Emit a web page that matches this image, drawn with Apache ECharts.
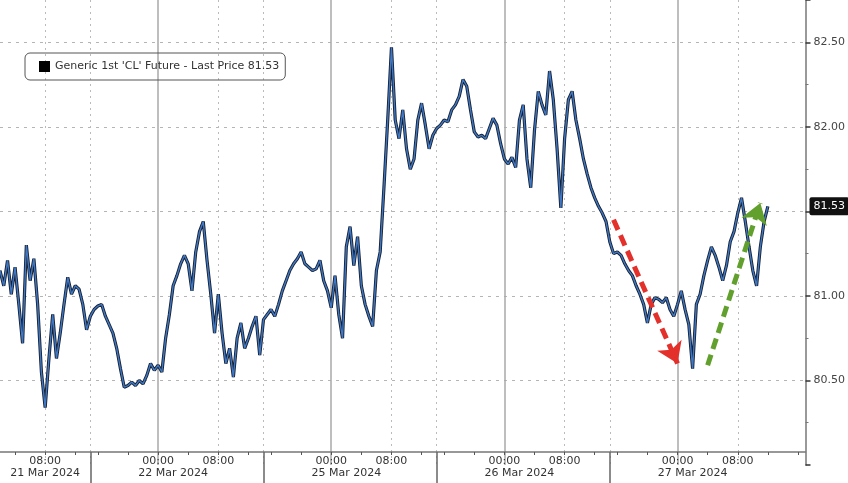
<!DOCTYPE html>
<html><head><meta charset="utf-8">
<script src="https://cdn.jsdelivr.net/npm/echarts@6/dist/echarts.min.js"></script>
<style>html,body{margin:0;padding:0;background:#fff}#c{width:848px;height:483px}</style>
</head><body><div id="c"></div>
<script>
// ---- data ----
const seriesName = "Generic 1st 'CL' Future - Last Price";
const sessionNames = ['21 Mar 2024', '22 Mar 2024', '25 Mar 2024', '26 Mar 2024', '27 Mar 2024'];
const sessionStartHour = [2, 15, 15, 15, 15];
const sessionSlotCount = [24, 46, 46, 46, 53];
// 30-minute closes
const price = [
  81.15,81.06,81.21,81.01,81.17,80.95,80.72,81.30,81.09,81.22,80.95,80.55,80.34,80.63,80.89,80.63,80.78,80.95,81.11,81.01,81.06,81.04,80.95,80.80,
  80.88,80.92,80.94,80.95,80.88,80.83,80.78,80.69,80.57,80.46,80.47,80.49,80.47,80.50,80.48,80.53,80.60,80.56,80.59,80.55,
  80.75,80.89,81.06,81.12,81.19,81.24,81.19,81.03,81.26,81.38,81.44,81.21,81.01,80.78,81.01,80.78,80.60,80.69,80.52,80.75,
  80.84,80.69,80.75,80.82,80.88,80.65,
  80.86,80.89,80.92,80.88,80.95,81.03,81.09,81.15,81.19,81.22,81.26,81.19,81.17,81.15,81.16,81.21,81.09,81.03,80.93,81.12,
  80.89,80.75,81.29,81.41,81.18,81.35,81.06,80.95,80.88,80.82,81.15,81.26,81.64,82.04,82.47,82.04,81.93,82.10,81.87,81.75,
  81.81,82.04,82.14,82.01,81.87,81.95,
  81.99,82.01,82.04,82.03,82.10,82.13,82.18,82.28,82.24,82.10,81.97,81.94,81.95,81.93,81.99,82.05,82.01,81.90,81.81,81.78,
  81.82,81.76,82.04,82.13,81.81,81.64,81.98,82.21,82.13,82.07,82.33,82.16,81.87,81.52,81.93,82.16,82.21,82.04,81.93,81.81,
  81.72,81.64,81.58,81.53,81.49,81.44,
  81.32,81.25,81.26,81.24,81.19,81.15,81.12,81.06,81.01,80.95,80.84,80.95,80.99,80.98,80.96,80.99,80.92,80.88,80.95,81.03,
  80.92,80.83,80.57,80.95,81.01,81.12,81.21,81.29,81.24,81.17,81.09,81.18,81.32,81.38,81.49,81.58,81.44,81.29,81.15,81.06,
  81.29,81.44,81.53
];
const yTickLabels = [80.5, 81.0, 81.5, 82.0, 82.5];
const redArrow = [[163, 81.45], [180, 80.60]];
const greenArrow = [[188, 80.59], [202, 81.55]];

// ---- build time slots ----
const categories = [], slotHour = [], slotSession = [], sessionStart = [];
const seen = new Set();
const hhmm = h => String(Math.floor(h)).padStart(2, '0') + ':' + (h % 1 ? '30' : '00');
sessionNames.forEach((name, s) => {
  sessionStart.push(categories.length);
  for (let k = 0; k < sessionSlotCount[s]; k++) {
    const h = (sessionStartHour[s] + k * 0.5) % 24;
    let c = name + ' ' + hhmm(h);
    while (seen.has(c)) c += '+';
    seen.add(c);
    categories.push(c); slotHour.push(h); slotSession.push(s);
  }
});
const dateLabelIdx = sessionNames.map((n, s) => {
  const target = s === 0 ? 8 : 2;
  return slotHour.findIndex((h, i) => slotSession[i] === s && h === target);
});
const last = price[price.length - 1];
const font = 'DejaVu Sans';

const chart = echarts.init(document.getElementById('c'), null, {renderer: 'canvas'});
const hiddenAxis = extra => Object.assign({
  type: 'category', data: categories, boundaryGap: false, position: 'bottom', offset: -13,
  axisLine: {show: false}, axisTick: {show: false}, axisLabel: {show: false}
}, extra);
const arrow = (pts, color) => [
  {coord: pts[0], symbol: 'none', lineStyle: {color: color, width: 5, type: [11, 6], opacity: 1}, itemStyle: {color: color}},
  {coord: pts[1], symbol: 'arrow', symbolSize: 20, itemStyle: {color: color}}
];

chart.setOption({
  animation: false,
  backgroundColor: '#fff',
  grid: {left: 0, right: 42, top: -12.5, bottom: 18},
  legend: {
    left: 25, top: 53, padding: [8, 6, 8, 14],
    borderColor: '#555', borderWidth: 1, borderRadius: 5,
    itemWidth: 11, itemHeight: 11, icon: 'rect',
    textStyle: {fontFamily: font, fontSize: 11, color: '#333'},
    data: [{name: seriesName, itemStyle: {color: '#000'}}],
    formatter: n => n + ' ' + last.toFixed(2)
  },
  xAxis: [
    {
      type: 'category', data: categories, boundaryGap: false, position: 'bottom', offset: -13,
      axisLine: {lineStyle: {color: '#777', width: 1.5}},
      axisTick: {length: 3, lineStyle: {color: '#555'}, interval: i => slotHour[i] % 4 === 0},
      axisLabel: {
        interval: i => (slotHour[i] === 0 || slotHour[i] === 8),
        formatter: (v, i) => hhmm(slotHour[i]),
        margin: 4, fontFamily: font, fontSize: 11, color: '#333'
      },
      splitLine: {show: false}
    },
    {
      type: 'category', data: categories, boundaryGap: false, position: 'bottom', offset: -13,
      axisLine: {show: false},
      axisTick: {show: true, length: 31, lineStyle: {color: '#666', width: 1.5},
        interval: i => sessionStart.indexOf(i) > 0},
      axisLabel: {
        interval: i => dateLabelIdx.indexOf(i) >= 0,
        formatter: (v, i) => { const s = dateLabelIdx.indexOf(i); return s >= 0 ? sessionNames[s] : ''; },
        margin: 16, fontFamily: font, fontSize: 11, color: '#333'
      }
    },
    hiddenAxis({splitLine: {show: true, interval: i => slotHour[i] === 0,
      lineStyle: {color: '#a8a8a8', width: 1.5, type: 'solid'}}}),
    hiddenAxis({splitLine: {show: true, interval: i => slotHour[i] === 8 || sessionStart.indexOf(i) > 0,
      lineStyle: {color: '#bbb', width: 1, type: [2, 4]}}})
  ],
  yAxis: {
    type: 'value', position: 'right', min: 80, max: 82.75, interval: 0.5,
    axisLine: {show: true, lineStyle: {color: '#777', width: 1.5}},
    axisTick: {show: true, length: 5, lineStyle: {color: '#333', width: 1.5}},
    minorTick: {show: true, splitNumber: 2, length: 3, lineStyle: {color: '#777'}},
    axisLabel: {
      margin: 8, fontFamily: font, fontSize: 11, color: '#444',
      formatter: v => yTickLabels.some(t => Math.abs(t - v) < 1e-6) ? v.toFixed(2) : ''
    },
    splitLine: {show: true, showMinLine: false, showMaxLine: false,
      lineStyle: {color: '#b5b5b5', width: 1, type: [3, 5]}}
  },
  series: [
    {
      name: seriesName, type: 'line', data: price, showSymbol: false,
      xAxisIndex: 0, yAxisIndex: 0,
      lineStyle: {color: '#18202e', width: 3.2}, itemStyle: {color: '#000'},
      z: 3,
      markLine: {
        silent: true, symbol: 'none', animation: false,
        lineStyle: {color: 'rgba(0,0,0,0)', width: 0.01},
        label: {
          show: true, position: 'end', distance: 4, formatter: () => last.toFixed(2),
          backgroundColor: '#111', color: '#fff', padding: [4, 4, 3, 4], borderRadius: 2,
          fontFamily: font, fontSize: 11
        },
        data: [{yAxis: last}]
      }
    },
    {
      name: 'overlay', type: 'line', data: price, showSymbol: false,
      lineStyle: {color: '#3f78c6', width: 1.4}, z: 4,
      markLine: {
        silent: true, animation: false,
        label: {show: false},
        data: [arrow(redArrow, '#e3302b'), arrow(greenArrow, '#62a02e')]
      }
    }
  ]
});
</script></body></html>
